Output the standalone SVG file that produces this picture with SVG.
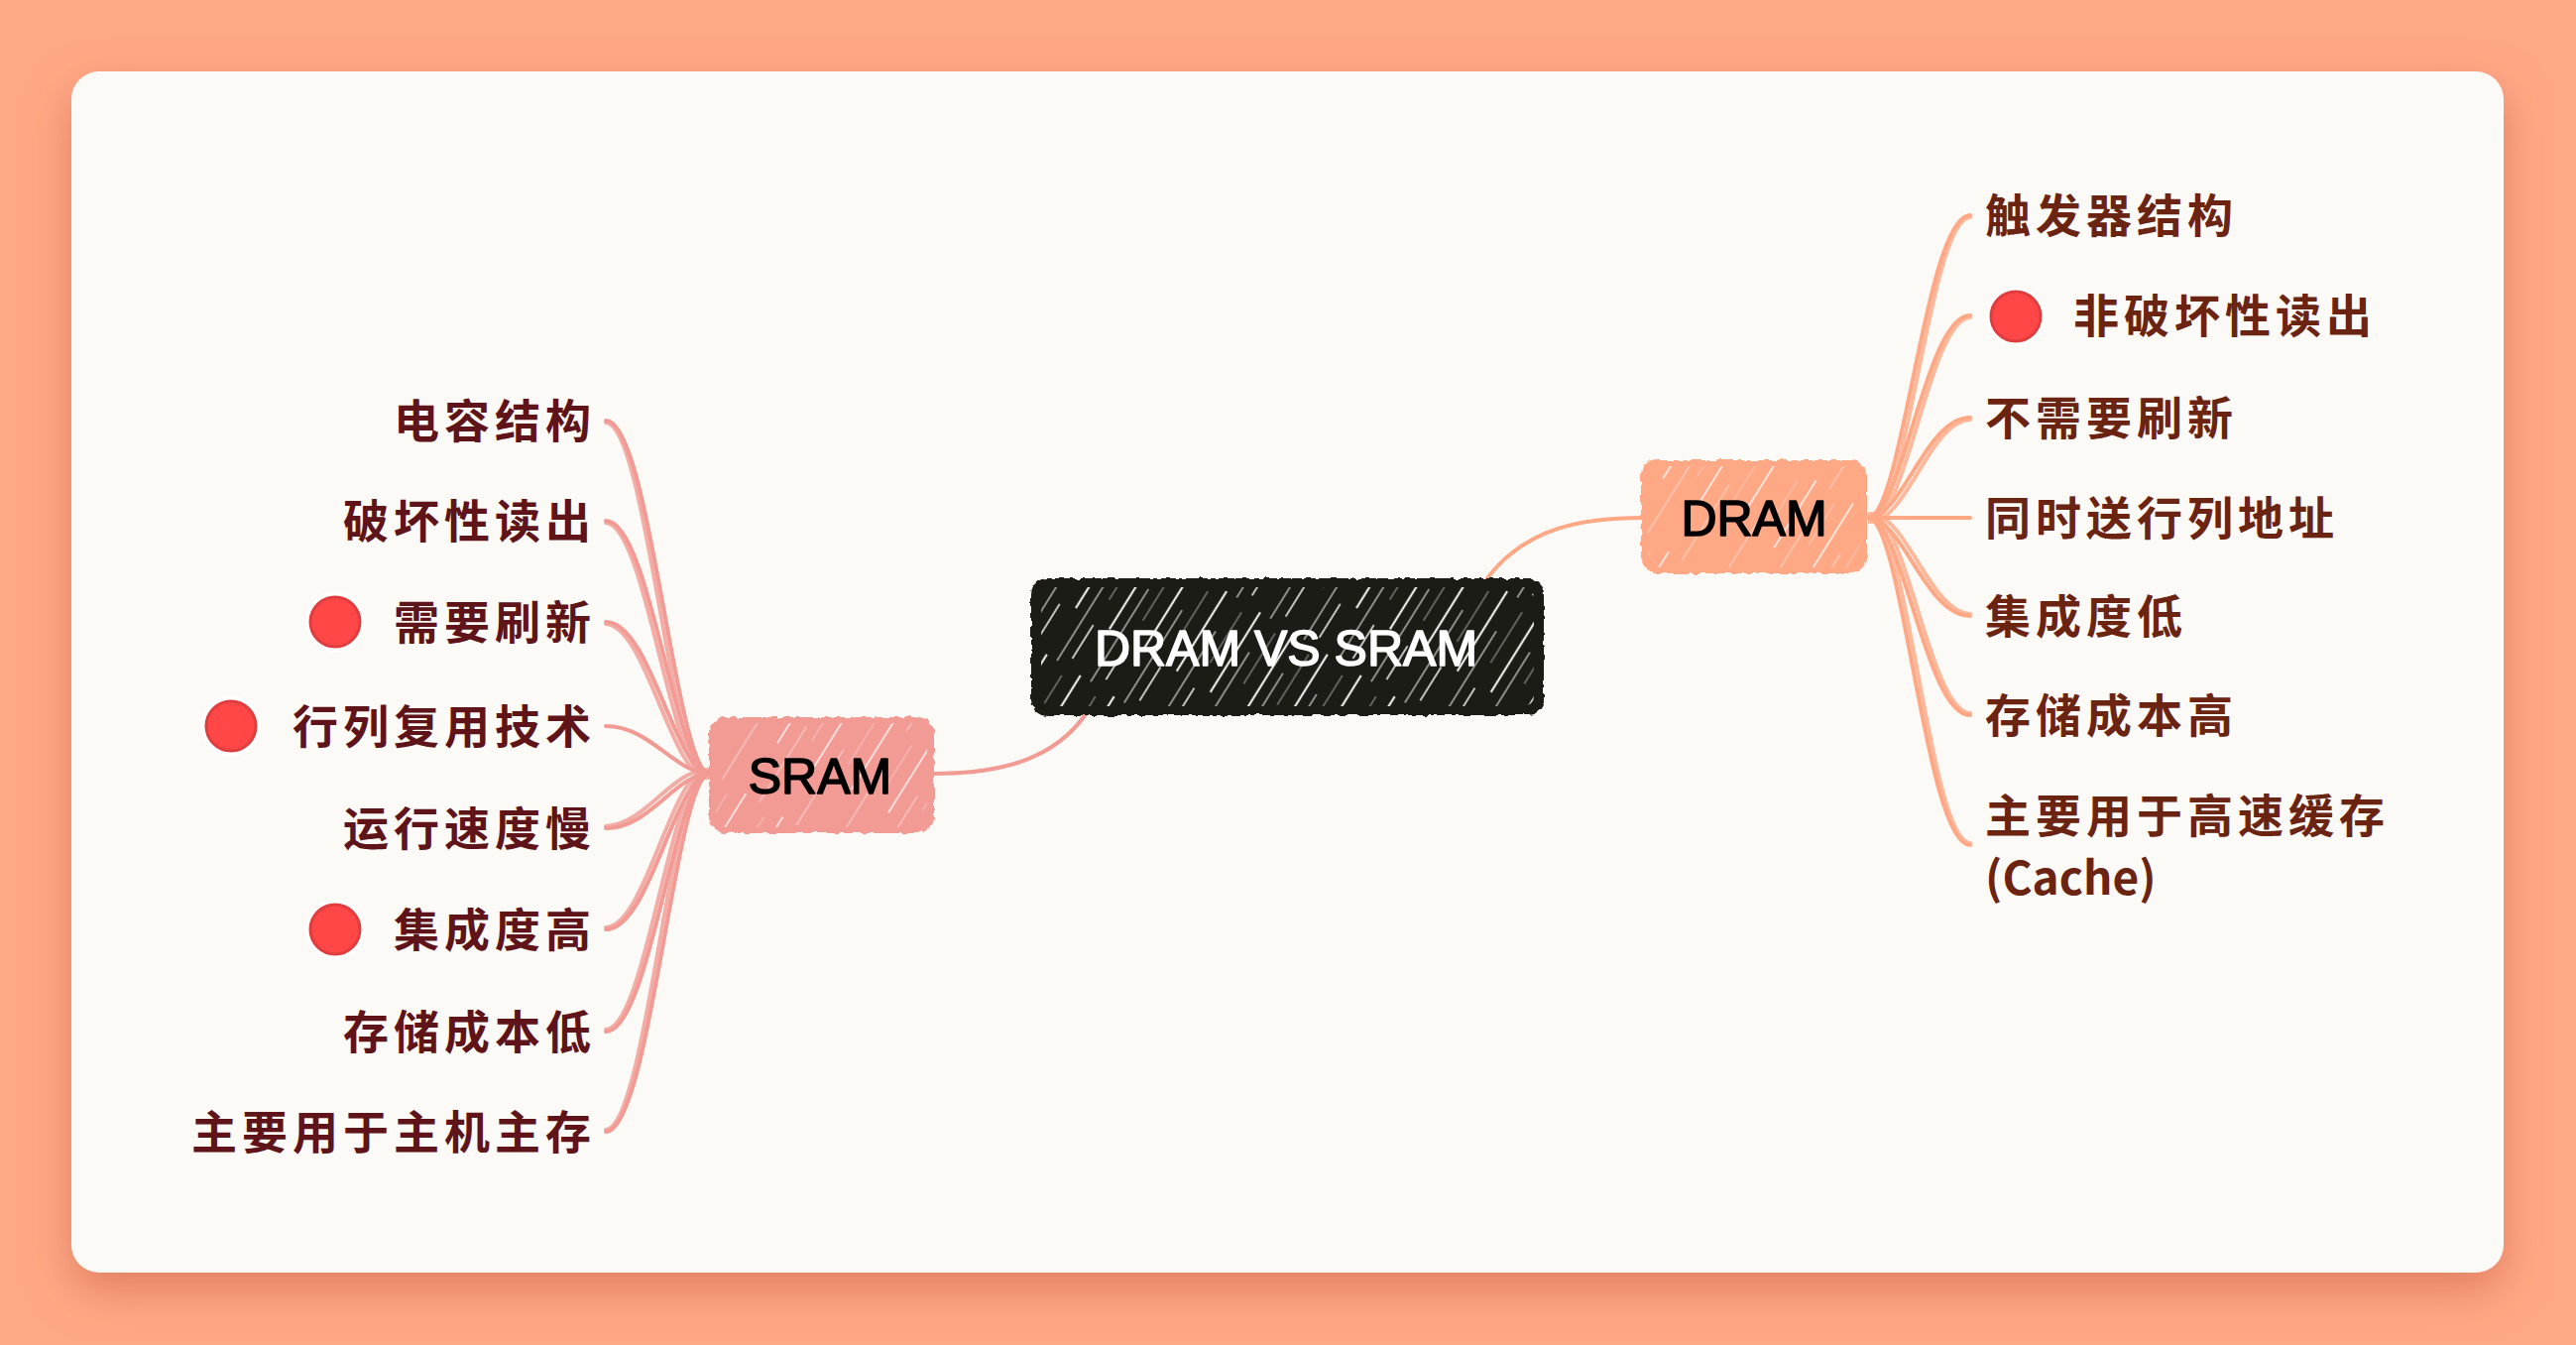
<svg xmlns="http://www.w3.org/2000/svg" width="2598" height="1356" viewBox="0 0 2598 1356">
<defs>
<style>
.lbl{font-family:"Noto Sans CJK SC","Noto Sans",sans-serif;font-size:46px;font-weight:700;letter-spacing:5px;dominant-baseline:central}
.d{fill:#6B2412}
.s{fill:#5E1418;text-anchor:end}
.title{font-family:"Liberation Sans","Noto Sans",sans-serif;font-size:50px;text-anchor:middle;stroke-width:1.6px;stroke-linejoin:round}
.br-d{fill:none;stroke:#FFA886;stroke-width:4;stroke-linecap:round}
.br-s{fill:none;stroke:#F29A94;stroke-width:4;stroke-linecap:round}
.dot{fill:#FF4747;stroke:#E03E3E;stroke-width:3}
.halo{fill:#FFFFFF}
</style>
<filter id="shadow" x="-10%" y="-10%" width="120%" height="130%">
<feDropShadow dx="0" dy="18" stdDeviation="22" flood-color="#C8603E" flood-opacity="0.55"/>
</filter>
<filter id="rough" x="-5%" y="-10%" width="110%" height="120%">
<feTurbulence type="fractalNoise" baseFrequency="0.12" numOctaves="2" seed="4"/>
<feDisplacementMap in="SourceGraphic" scale="6" xChannelSelector="R" yChannelSelector="G"/>
</filter>
<pattern id="hatchW" width="40" height="150" patternUnits="userSpaceOnUse" patternTransform="rotate(32)">
<line x1="5" y1="0" x2="5" y2="95" stroke="#FFFFFF" stroke-width="2.2" opacity="0.9"/>
<line x1="17" y1="40" x2="17" y2="150" stroke="#FFFFFF" stroke-width="1.4" opacity="0.7"/>
<line x1="29" y1="10" x2="29" y2="70" stroke="#FFFFFF" stroke-width="1.2" opacity="0.5"/>
<line x1="29" y1="100" x2="29" y2="140" stroke="#FFFFFF" stroke-width="1.8" opacity="0.8"/>
</pattern>
<pattern id="hatchL" width="44" height="140" patternUnits="userSpaceOnUse" patternTransform="rotate(32)">
<line x1="6" y1="0" x2="6" y2="80" stroke="#FFFFFF" stroke-width="1.8" opacity="0.75"/>
<line x1="22" y1="50" x2="22" y2="140" stroke="#FFFFFF" stroke-width="1.2" opacity="0.5"/>
<line x1="34" y1="10" x2="34" y2="60" stroke="#FFFFFF" stroke-width="1" opacity="0.4"/>
</pattern>
<clipPath id="cRoot"><rect x="1050" y="592" width="497" height="120" rx="10"/></clipPath>
<clipPath id="cDram"><rect x="1662" y="470" width="214" height="102" rx="10"/></clipPath>
<clipPath id="cSram"><rect x="722" y="729" width="213" height="105" rx="10"/></clipPath>
</defs>

<rect width="2598" height="1356" fill="#FFA886"/>
<rect x="72" y="72" width="2453" height="1211" rx="28" fill="#FCFAF6" filter="url(#shadow)"/>

<g id="connectors">
<path class="br-d" d="M1500,583 C1540,530 1600,522 1657,522"/>
<path class="br-s" d="M1095,720 C1060,770 1000,780 941,780"/>
<path class="br-d" d="M1884,522 C1919,522 1942,217 1987,217"/>
<path class="br-d" d="M1884,522 C1919,522 1942,318 1987,318"/>
<path class="br-d" d="M1884,522 C1919,522 1942,421 1987,421"/>
<path class="br-d" d="M1884,522 L1987,522"/>
<path class="br-d" d="M1884,522 C1919,522 1942,621 1987,621"/>
<path class="br-d" d="M1884,522 C1919,522 1942,721 1987,721"/>
<path class="br-d" d="M1884,522 C1919,522 1942,852 1987,852"/>
<g opacity="0.8">
<path class="br-d" stroke-width="2.5" d="M1886,526 C1923,526 1946,221 1987,219"/>
<path class="br-d" stroke-width="2.5" d="M1886,526 C1923,526 1946,322 1987,320"/>
<path class="br-d" stroke-width="2.5" d="M1886,526 C1923,526 1946,425 1987,423"/>
<path class="br-d" stroke-width="2.5" d="M1886,518 C1923,518 1946,617 1987,619"/>
<path class="br-d" stroke-width="2.5" d="M1886,518 C1923,518 1946,717 1987,719"/>
<path class="br-d" stroke-width="2.5" d="M1886,518 C1923,518 1946,848 1987,850"/>
</g>
<path class="br-s" d="M716,780 C681,780 656,424 611,424"/>
<path class="br-s" d="M716,780 C681,780 656,525 611,525"/>
<path class="br-s" d="M716,780 C681,780 656,627 611,627"/>
<path class="br-s" d="M716,780 C681,780 656,732 611,732"/>
<path class="br-s" d="M716,780 C681,780 656,835 611,835"/>
<path class="br-s" d="M716,780 C681,780 656,937 611,937"/>
<path class="br-s" d="M716,780 C681,780 656,1040 611,1040"/>
<path class="br-s" d="M716,780 C681,780 656,1141 611,1141"/>
<g opacity="0.8">
<path class="br-s" stroke-width="2.5" d="M714,784 C677,784 652,428 611,426"/>
<path class="br-s" stroke-width="2.5" d="M714,784 C677,784 652,529 611,527"/>
<path class="br-s" stroke-width="2.5" d="M714,784 C677,784 652,631 611,629"/>
<path class="br-s" stroke-width="2.5" d="M714,776 C677,776 652,831 611,833"/>
<path class="br-s" stroke-width="2.5" d="M714,776 C677,776 652,933 611,935"/>
<path class="br-s" stroke-width="2.5" d="M714,776 C677,776 652,1036 611,1038"/>
<path class="br-s" stroke-width="2.5" d="M714,776 C677,776 652,1137 611,1139"/>
</g>
</g>

<g id="root">
<rect x="1040" y="583" width="517" height="138" rx="16" fill="#1E1C18" filter="url(#rough)"/>
<rect x="1050" y="592" width="497" height="120" fill="url(#hatchW)" clip-path="url(#cRoot)"/>
<text class="title" x="1297" y="671" fill="#FFFFFF" stroke="#FFFFFF" font-size="52">DRAM VS SRAM</text>
</g>

<g id="dram">
<rect x="1655" y="464" width="228" height="114" rx="16" fill="#FFA886" filter="url(#rough)"/>
<rect x="1662" y="470" width="214" height="102" fill="url(#hatchL)" clip-path="url(#cDram)"/>
<text class="title" x="1769" y="540" fill="#000000" stroke="#000000">DRAM</text>
</g>

<g id="sram">
<rect x="715" y="723" width="227" height="117" rx="16" fill="#F29A94" filter="url(#rough)"/>
<rect x="722" y="729" width="213" height="105" fill="url(#hatchL)" clip-path="url(#cSram)"/>
<text class="title" x="827" y="800" fill="#000000" stroke="#000000">SRAM</text>
</g>

<g id="d1"><text class="lbl d" x="2002" y="214">触发器结构</text></g>
<g id="d2">
<circle class="halo" cx="2033" cy="319" r="30"/>
<circle class="dot" cx="2033" cy="319" r="25"/>
<text class="lbl d" x="2091" y="315">非破坏性读出</text>
</g>
<g id="d3"><text class="lbl d" x="2002" y="418">不需要刷新</text></g>
<g id="d4"><text class="lbl d" x="2002" y="519">同时送行列地址</text></g>
<g id="d5"><text class="lbl d" x="2002" y="618">集成度低</text></g>
<g id="d6"><text class="lbl d" x="2002" y="718">存储成本高</text></g>
<g id="d7">
<text class="lbl d" x="2002" y="819">主要用于高速缓存</text>
<text class="lbl d" x="2002" y="882" style="letter-spacing:0">(Cache)</text>
</g>

<g id="s1"><text class="lbl s" x="601" y="421">电容结构</text></g>
<g id="s2"><text class="lbl s" x="601" y="522">破坏性读出</text></g>
<g id="s3">
<circle class="halo" cx="338" cy="627" r="30"/>
<circle class="dot" cx="338" cy="627" r="25"/>
<text class="lbl s" x="601" y="624">需要刷新</text>
</g>
<g id="s4">
<circle class="halo" cx="233" cy="732" r="30"/>
<circle class="dot" cx="233" cy="732" r="25"/>
<text class="lbl s" x="601" y="729">行列复用技术</text>
</g>
<g id="s5"><text class="lbl s" x="601" y="832">运行速度慢</text></g>
<g id="s6">
<circle class="halo" cx="338" cy="937" r="30"/>
<circle class="dot" cx="338" cy="937" r="25"/>
<text class="lbl s" x="601" y="934">集成度高</text>
</g>
<g id="s7"><text class="lbl s" x="601" y="1037">存储成本低</text></g>
<g id="s8"><text class="lbl s" x="601" y="1138">主要用于主机主存</text></g>
</svg>
